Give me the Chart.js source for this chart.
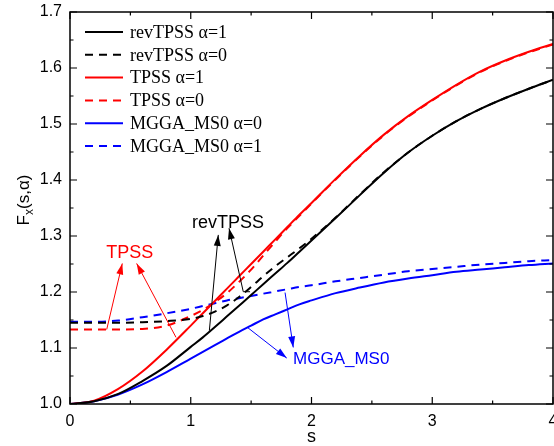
<!DOCTYPE html>
<html>
<head>
<meta charset="utf-8">
<script src="https://cdn.jsdelivr.net/npm/chart.js@4.4.1/dist/chart.umd.min.js"></script>
<style>
  html, body { margin: 0; padding: 0; background: #fff; }
  #wrap { width: 554px; height: 446px; }
</style>
</head>
<body>
<div id="wrap"><canvas id="fx"></canvas></div>
<script>
// reduced gradient s
const sValues = [0, 0.2, 0.4, 0.6, 0.8, 1.0, 1.1, 1.2, 1.3, 1.4, 1.5, 1.6, 1.7, 1.8, 1.9, 2.0,
                 2.2, 2.4, 2.6, 2.8, 3.0, 3.2, 3.4, 3.6, 3.8, 4.0];

// enhancement factor F_x(s, alpha)
const revTpssA1 = [1.000, 1.005, 1.018, 1.041, 1.068, 1.102, 1.119, 1.1375, 1.1565, 1.1755, 1.1945, 1.214, 1.233,
                   1.252, 1.272, 1.292, 1.332, 1.373, 1.413, 1.449, 1.479, 1.505, 1.527, 1.546, 1.563, 1.579];
const revTpssA0 = [1.145, 1.145, 1.145, 1.146, 1.148, 1.152, 1.157, 1.165, 1.176, 1.191, 1.209, 1.228, 1.246,
                   1.262, 1.278, 1.295, 1.333, 1.374, 1.414, 1.449, 1.479, 1.505, 1.527, 1.546, 1.563, 1.579];
const tpssA1    = [1.000, 1.006, 1.027, 1.058, 1.097, 1.140, 1.162, 1.184, 1.206, 1.228, 1.250, 1.272, 1.294,
                   1.316, 1.338, 1.359, 1.402, 1.443, 1.481, 1.514, 1.543, 1.570, 1.594, 1.613, 1.629, 1.643];
const tpssA0    = [1.133, 1.133, 1.133, 1.134, 1.140, 1.157, 1.168, 1.182, 1.198, 1.218, 1.240, 1.265, 1.290,
                   1.314, 1.336, 1.358, 1.401, 1.442, 1.480, 1.513, 1.542, 1.569, 1.593, 1.612, 1.628, 1.642];
const ms0A0     = [1.000, 1.005, 1.017, 1.035, 1.057, 1.081, 1.093, 1.105, 1.117, 1.129, 1.140, 1.151, 1.160,
                   1.169, 1.178, 1.185, 1.198, 1.208, 1.217, 1.224, 1.230, 1.236, 1.240, 1.244, 1.248, 1.251];
const ms0A1     = [1.147, 1.147, 1.149, 1.155, 1.162, 1.170, 1.175, 1.180, 1.185, 1.189, 1.193, 1.197, 1.201,
                   1.205, 1.209, 1.212, 1.219, 1.225, 1.231, 1.237, 1.241, 1.245, 1.249, 1.252, 1.255, 1.257];

const xTicks = [0, 1, 2, 3, 4];
const yTicks = [1.0, 1.1, 1.2, 1.3, 1.4, 1.5, 1.6, 1.7];

// callouts, in data units: label anchor and arrows (tail -> ... -> head)
const callouts = [
  { text: 'TPSS', color: '#ff0000', at: [0.494, 1.270], align: 'center', size: 18,
    arrows: [[[0.304, 1.133], [0.433, 1.251]], [[0.878, 1.119], [0.552, 1.251]]] },
  { text: 'revTPSS', color: '#000000', at: [1.309, 1.324], align: 'center', size: 18,
    arrows: [[[1.154, 1.131], [1.228, 1.302]], [[1.491, 1.2005], [1.435, 1.2005], [1.317, 1.314]]] },
  { text: 'MGGA_MS0', color: '#0000ff', at: [1.847, 1.079], align: 'left', size: 17,
    arrows: [[[1.468, 1.137], [1.795, 1.082]], [[1.781, 1.199], [1.849, 1.101]]] }
];

const SANS = "'Liberation Sans', Arial, sans-serif";
const SERIF = "'Liberation Serif', 'Times New Roman', serif";
const DASH = [8, 6];

function series(label, ys, color, dashed) {
  return {
    label,
    data: sValues.map((s, i) => ({ x: s, y: ys[i] })),
    borderColor: color,
    backgroundColor: color,
    borderWidth: 2,
    borderDash: dashed ? DASH : [],
    pointRadius: 0,
    showLine: true,
    fill: false,
    cubicInterpolationMode: 'monotone'
  };
}

// frame with inward major/minor ticks on all four sides, plus axis titles
const framePlugin = {
  id: 'frame',
  afterDatasetsDraw(chart) {
    const { ctx, chartArea: a, scales: { x, y } } = chart;
    ctx.save();
    ctx.strokeStyle = '#000';
    ctx.lineWidth = 1.5;
    ctx.strokeRect(a.left, a.top, a.right - a.left, a.bottom - a.top);
    ctx.lineWidth = 1.2;
    ctx.beginPath();
    for (let v = 0; v <= 4.0001; v += 0.5) {
      const px = x.getPixelForValue(v);
      const len = Math.abs(v - Math.round(v)) < 1e-6 ? 7 : 3.5;
      ctx.moveTo(px, a.bottom); ctx.lineTo(px, a.bottom - len);
      ctx.moveTo(px, a.top); ctx.lineTo(px, a.top + len);
    }
    for (let k = 0; k <= 14; k++) {
      const py = y.getPixelForValue(1.0 + k * 0.05);
      const len = k % 2 === 0 ? 7 : 3.5;
      ctx.moveTo(a.left, py); ctx.lineTo(a.left + len, py);
      ctx.moveTo(a.right, py); ctx.lineTo(a.right - len, py);
    }
    ctx.stroke();

    ctx.fillStyle = '#000';
    ctx.textBaseline = 'alphabetic';

    // x axis title
    ctx.font = '18px ' + SANS;
    ctx.textAlign = 'center';
    ctx.fillText('s', (a.left + a.right) / 2, 441.5);

    // y axis title F_x(s,α)
    ctx.textAlign = 'left';
    ctx.translate(29, (a.top + a.bottom) / 2 - 8);
    ctx.rotate(-Math.PI / 2);
    const big = '17px ' + SANS, small = '12px ' + SANS;
    ctx.font = big;
    const wF = ctx.measureText('F').width;
    ctx.font = small;
    const wx = ctx.measureText('x').width;
    ctx.font = big;
    const wRest = ctx.measureText('(s,α)').width;
    let cx = -(wF + wx + wRest) / 2;
    ctx.fillText('F', cx, 0); cx += wF;
    ctx.font = small; ctx.fillText('x', cx, 4); cx += wx;
    ctx.font = big; ctx.fillText('(s,α)', cx, 0);
    ctx.restore();
  }
};

// legend block in the upper left of the plot
const legendPlugin = {
  id: 'boxLegend',
  afterDatasetsDraw(chart) {
    const { ctx } = chart;
    ctx.save();
    chart.data.datasets.forEach((ds, i) => {
      const yy = 32 + i * 22.8;
      ctx.strokeStyle = ds.borderColor;
      ctx.lineWidth = 2;
      ctx.setLineDash(ds.borderDash);
      ctx.beginPath();
      ctx.moveTo(85, yy); ctx.lineTo(123, yy);
      ctx.stroke();
      ctx.setLineDash([]);
      ctx.fillStyle = '#000';
      ctx.font = '18px ' + SERIF;
      ctx.textBaseline = 'middle';
      ctx.textAlign = 'left';
      ctx.fillText(ds.label, 130, yy + 1);
    });
    ctx.restore();
  }
};

// text callouts with arrows pointing at the curves
const calloutPlugin = {
  id: 'callouts',
  afterDatasetsDraw(chart) {
    const { ctx, scales: { x, y } } = chart;
    const px = p => [x.getPixelForValue(p[0]), y.getPixelForValue(p[1])];
    ctx.save();
    callouts.forEach(c => {
      ctx.strokeStyle = c.color;
      ctx.fillStyle = c.color;
      ctx.lineWidth = 1;
      c.arrows.forEach(path => {
        const pts = path.map(px);
        ctx.beginPath();
        ctx.moveTo(pts[0][0], pts[0][1]);
        for (let i = 1; i < pts.length; i++) ctx.lineTo(pts[i][0], pts[i][1]);
        ctx.stroke();
        const [hx, hy] = pts[pts.length - 1];
        const [tx, ty] = pts[pts.length - 2];
        const ang = Math.atan2(hy - ty, hx - tx);
        const L = 11, W = 3.5;
        ctx.beginPath();
        ctx.moveTo(hx, hy);
        ctx.lineTo(hx - L * Math.cos(ang) + W * Math.sin(ang), hy - L * Math.sin(ang) - W * Math.cos(ang));
        ctx.lineTo(hx - L * Math.cos(ang) - W * Math.sin(ang), hy - L * Math.sin(ang) + W * Math.cos(ang));
        ctx.closePath();
        ctx.fill();
      });
      const [lx, ly] = px(c.at);
      ctx.font = c.size + 'px ' + SANS;
      ctx.textAlign = c.align;
      ctx.textBaseline = 'middle';
      ctx.fillText(c.text, lx, ly);
    });
    ctx.restore();
  }
};

new Chart(document.getElementById('fx'), {
  type: 'scatter',
  data: {
    datasets: [
      series('revTPSS α=1', revTpssA1, '#000000', false),
      series('revTPSS α=0', revTpssA0, '#000000', true),
      series('TPSS α=1', tpssA1, '#ff0000', false),
      series('TPSS α=0', tpssA0, '#ff0000', true),
      series('MGGA_MS0 α=0', ms0A0, '#0000ff', false),
      series('MGGA_MS0 α=1', ms0A1, '#0000ff', true)
    ]
  },
  options: {
    responsive: true,
    maintainAspectRatio: false,
    animation: false,
    layout: { padding: { left: 0, right: 1, top: 12, bottom: 0 } },
    plugins: { legend: { display: false }, tooltip: { enabled: false } },
    scales: {
      x: {
        type: 'linear', min: 0, max: 4,
        afterBuildTicks: s => { s.ticks = xTicks.map(v => ({ value: v })); },
        afterFit: s => { s.height = 42; s.paddingLeft = 0; s.paddingRight = 0; },
        grid: { display: false, drawTicks: false },
        border: { display: false },
        ticks: { color: '#000', font: { family: SANS, size: 16 }, padding: 8, maxRotation: 0, autoSkip: false }
      },
      y: {
        type: 'linear', min: 1.0, max: 1.7,
        afterBuildTicks: s => { s.ticks = yTicks.map(v => ({ value: v })); },
        afterFit: s => { s.width = 70; s.paddingTop = 0; s.paddingBottom = 0; },
        grid: { display: false, drawTicks: false },
        border: { display: false },
        ticks: { color: '#000', font: { family: SANS, size: 16 }, padding: 8, autoSkip: false,
                 callback: v => Number(v).toFixed(1) }
      }
    }
  },
  plugins: [framePlugin, legendPlugin, calloutPlugin]
});
</script>
</body>
</html>
